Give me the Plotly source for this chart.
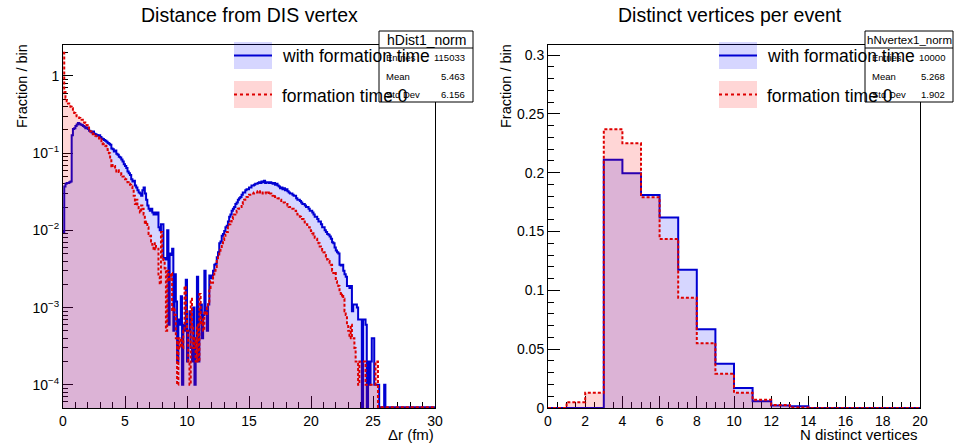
import plotly.graph_objects as go

W, H = 956, 443


def px(x):
    return x / W


def py(y):
    return 1 - y / H


# ---------------- data ----------------
dist_bin_width = 0.1  # fm
# "with formation time" (hDist1_norm), 300 bins 0..30 fm
dist_with_ft = [
    0.0095, 0.037, 0.040, 0.041, 0.041, 0.042, 0.043, 0.17, 0.205, 0.21,
    0.225, 0.235, 0.245, 0.24, 0.235, 0.232, 0.225, 0.22, 0.21, 0.215,
    0.205, 0.195, 0.19, 0.185, 0.19, 0.178, 0.175, 0.172, 0.168, 0.17,
    0.162, 0.155, 0.152, 0.148, 0.145, 0.140, 0.135, 0.132, 0.128, 0.115,
    0.112, 0.105, 0.108, 0.098, 0.095, 0.090, 0.088, 0.083, 0.078, 0.072,
    0.068, 0.064, 0.058, 0.055, 0.052, 0.046, 0.043, 0.044, 0.038, 0.036,
    0.033, 0.031, 0.030, 0.028, 0.033, 0.036, 0.030, 0.025, 0.021, 0.019,
    0.018, 0.019, 0.017, 0.016, 0.017, 0.016, 0.017, 0.011, 0.010, 0.012,
    0.012, 0.0043, 0.0044, 0.0042, 0.010, 0.0006, 0.005, 0.0048, 0.0058, 0.0005,
    0.0027, 0.0012, 0.0002, 0.0007, 0.0006, 0.0014, 0.0001, 0.0006, 0.0005, 0.0023,
    0.0002, 0.0005, 0.0009, 0.0003, 0.0002, 0.0010, 0.0001, 0.0004, 0.0025, 0.0002,
    0.0009, 0.0011, 0.0004, 0.0008, 0.0030, 0.0009, 0.0005, 0.0011, 0.0026, 0.0024,
    0.0026, 0.0030, 0.0036, 0.0037, 0.0045, 0.0052, 0.0068, 0.0072, 0.0085, 0.0090,
    0.0098, 0.011, 0.0115, 0.013, 0.015, 0.016, 0.018, 0.019, 0.020, 0.022,
    0.023, 0.025, 0.026, 0.027, 0.029, 0.031, 0.031, 0.033, 0.034, 0.034,
    0.036, 0.036, 0.038, 0.038, 0.039, 0.040, 0.040, 0.041, 0.042, 0.041,
    0.043, 0.042, 0.044, 0.041, 0.042, 0.042, 0.041, 0.042, 0.041, 0.040,
    0.041, 0.039, 0.040, 0.038, 0.037, 0.035, 0.036, 0.034, 0.035, 0.033,
    0.034, 0.032, 0.031, 0.030, 0.030, 0.029, 0.028, 0.028, 0.026, 0.025,
    0.025, 0.024, 0.023, 0.022, 0.022, 0.021, 0.020, 0.020, 0.019, 0.018,
    0.018, 0.017, 0.016, 0.015, 0.015, 0.014, 0.013, 0.013, 0.012, 0.011,
    0.011, 0.010, 0.0095, 0.0090, 0.0088, 0.0083, 0.0078, 0.0070, 0.0068, 0.0060,
    0.0055, 0.0052, 0.0050, 0.0036, 0.0035, 0.0036, 0.0030, 0.0027, 0.0025, 0.0019,
    0.0019, 0.0018, 0.0019, 0.0009, 0.0011, 0.0011, 0.0011, 0.0010, 0.0007, 0.0007,
    0.0007, 0.0, 0.0007, 0.0007, 0.0006, 0.0, 0.0002, 0.0001, 0.0002, 0.0004,
    0.0004, 0.0001, 0.0001, 0.0001, 0.0001, 0.0, 0.0, 0.0, 0.0, 0.0001,
    0.0, 0.0, 0.0, 0.0, 0.0, 0.0, 0.0, 0.0, 0.0, 0.0,
    0.0, 0.0, 0.0, 0.0, 0.0, 0.0, 0.0, 0.0, 0.0, 0.0,
    0.0, 0.0, 0.0, 0.0, 0.0, 0.0, 0.0, 0.0, 0.0, 0.0,
    0.0, 0.0, 0.0, 0.0, 0.0, 0.0, 0.0, 0.0, 0.0, 0.0,
]
# "formation time 0"
dist_ft0 = [
    2.0, 0.62, 0.52, 0.47, 0.44, 0.42, 0.40, 0.38, 0.35, 0.33,
    0.31, 0.30, 0.29, 0.285, 0.28, 0.27, 0.26, 0.25, 0.245, 0.23,
    0.215, 0.20, 0.19, 0.182, 0.175, 0.17, 0.168, 0.165, 0.16, 0.155,
    0.15, 0.135, 0.13, 0.128, 0.125, 0.118, 0.11, 0.10, 0.085, 0.065,
    0.07, 0.068, 0.062, 0.058, 0.06, 0.057, 0.055, 0.052, 0.05, 0.047,
    0.046, 0.044, 0.042, 0.040, 0.039, 0.037, 0.034, 0.028, 0.022, 0.025,
    0.020, 0.018, 0.017, 0.021, 0.019, 0.016, 0.012, 0.013, 0.011, 0.009,
    0.0085, 0.0072, 0.0065, 0.0055, 0.0068, 0.0060, 0.0058, 0.0025, 0.0020, 0.0095,
    0.0045, 0.0040, 0.0032, 0.0005, 0.0030, 0.0022, 0.0025, 0.0028, 0.0009, 0.0010,
    0.0008, 0.0004, 0.0001, 0.0004, 0.0003, 0.0004, 0.0003, 0.0005, 0.0019, 0.0009,
    0.0005, 0.0002, 0.0001, 0.0013, 0.0006, 0.0003, 0.0004, 0.0002, 0.0006, 0.0002,
    0.0015, 0.0006, 0.0007, 0.0005, 0.0009, 0.0008, 0.0010, 0.0012, 0.0018, 0.0022,
    0.0021, 0.0025, 0.0030, 0.0032, 0.0040, 0.0045, 0.0050, 0.0058, 0.0065, 0.0075,
    0.0080, 0.0088, 0.0095, 0.011, 0.012, 0.013, 0.014, 0.015, 0.016, 0.017,
    0.018, 0.019, 0.020, 0.020, 0.022, 0.024, 0.025, 0.026, 0.027, 0.028,
    0.029, 0.029, 0.030, 0.030, 0.031, 0.031, 0.031, 0.032, 0.031, 0.032,
    0.031, 0.030, 0.031, 0.031, 0.030, 0.031, 0.029, 0.030, 0.029, 0.028,
    0.029, 0.027, 0.027, 0.026, 0.025, 0.025, 0.024, 0.024, 0.023, 0.022,
    0.022, 0.021, 0.020, 0.020, 0.019, 0.019, 0.018, 0.018, 0.017, 0.016,
    0.016, 0.015, 0.014, 0.014, 0.013, 0.012, 0.012, 0.011, 0.011, 0.010,
    0.0098, 0.0092, 0.0088, 0.0080, 0.0078, 0.0072, 0.0068, 0.0062, 0.0060, 0.0055,
    0.0052, 0.0048, 0.0046, 0.0042, 0.0040, 0.0038, 0.0036, 0.0030, 0.0028, 0.0029,
    0.0022, 0.0020, 0.0019, 0.0016, 0.0014, 0.0015, 0.0013, 0.0009, 0.0008, 0.0006,
    0.0005, 0.0004, 0.0006, 0.0004, 0.0004, 0.0003, 0.0002, 0.0002, 0.0001, 0.0002,
    0.0002, 0.0002, 0.0002, 0.0002, 0.0001, 0.0001, 0.0001, 0.0001, 0.0001, 0.0001,
    0.0001, 0.0001, 0.0002, 0.0002, 0.0, 0.0, 0.0, 0.0, 0.0, 0.0,
    0.0, 0.0, 0.0, 0.0, 0.0, 0.0, 0.0, 0.0, 0.0, 0.0,
    0.0, 0.0, 0.0, 0.0, 0.0, 0.0, 0.0, 0.0, 0.0, 0.0,
    0.0, 0.0, 0.0, 0.0, 0.0, 0.0, 0.0, 0.0, 0.0, 0.0,
    0.0, 0.0, 0.0, 0.0, 0.0, 0.0, 0.0, 0.0, 0.0, 0.0,
]

nvtx_bin_width = 1
nvtx_with_ft = [0.0, 0.0, 0.0, 0.211, 0.1995, 0.181, 0.162, 0.1175, 0.067, 0.0377,
                0.0171, 0.0057, 0.0022, 0.0015, 0.0, 0.0, 0.0, 0.0, 0.0, 0.0]
nvtx_ft0 = [0.0, 0.0048, 0.0129, 0.2368, 0.2249, 0.1792, 0.1436, 0.0936, 0.0551, 0.0292,
            0.0129, 0.0071, 0.0025, 0.0005, 0.0, 0.0, 0.0, 0.0, 0.0, 0.0]

series_names = ["with formation time", "formation time 0"]
stats_dist = {"name": "hDist1_norm", "Entries": "115033", "Mean": "5.463", "Std Dev": "6.156"}
stats_nvtx = {"name": "hNvertex1_norm", "Entries": "10000", "Mean": "5.268", "Std Dev": "1.902"}

# ---------------- style ----------------
FONT = "Liberation Sans, Arial, Helvetica, sans-serif"
BLUE_LINE = "rgb(0,0,210)"
RED_LINE = "rgb(222,0,0)"
BLUE_FILL = "rgba(0,0,255,0.16)"
RED_FILL = "rgba(255,0,0,0.16)"
RED_DASH = "3px,2px"
LOG_RANGE = [-4.3, 0.4]


def step_xy(width, vals, floor=None):
    xs = [i * width for i in range(len(vals) + 1)]
    ys = list(vals) + [vals[-1]]
    if floor is not None:
        # empty bins are drawn on the lower frame edge, as ROOT does on a log scale
        ys = [v if v > 0 else floor for v in ys]
    return xs, ys


fig = go.Figure()

# left panel (log)
for vals, lc, fc, dash in [(dist_with_ft, BLUE_LINE, BLUE_FILL, "solid"),
                           (dist_ft0, RED_LINE, RED_FILL, RED_DASH)]:
    xs, ys = step_xy(dist_bin_width, vals, floor=10 ** (LOG_RANGE[0] + 0.01))
    fig.add_trace(go.Scatter(x=xs, y=ys, mode="lines", line=dict(shape="hv", color=lc, width=2, dash=dash),
                             fill="tozeroy", fillcolor=fc, xaxis="x", yaxis="y", showlegend=False,
                             hoverinfo="skip"))

# right panel (linear)
for vals, lc, fc, dash in [(nvtx_with_ft, BLUE_LINE, BLUE_FILL, "solid"),
                           (nvtx_ft0, RED_LINE, RED_FILL, RED_DASH)]:
    xs, ys = step_xy(nvtx_bin_width, vals)
    fig.add_trace(go.Scatter(x=xs, y=ys, mode="lines", line=dict(shape="hv", color=lc, width=2, dash=dash),
                             fill="tozeroy", fillcolor=fc, xaxis="x2", yaxis="y2", showlegend=False,
                             hoverinfo="skip"))

axis_common = dict(showline=True, mirror=True, linecolor="black", linewidth=1, ticks="inside",
                   tickcolor="black", showgrid=False, zeroline=False, layer="below traces",
                   automargin=False,
                   tickfont=dict(family=FONT, size=14, color="black"))

log_major = [1e-4, 1e-3, 1e-2, 1e-1, 1]
log_labels = ["10<sup>\u22124</sup>", "10<sup>\u22123</sup>", "10<sup>\u22122</sup>", "10<sup>\u22121</sup>", "1"]
log_minor = [m * 10.0 ** e for e in range(-5, 1) for m in range(2, 10)]

fig.update_layout(
    template="none",
    width=W, height=H, margin=dict(l=0, r=0, t=0, b=0, autoexpand=False),
    paper_bgcolor="white", plot_bgcolor="white",
    xaxis=dict(domain=[px(63), px(435)], range=[0, 30], anchor="y", tick0=0, dtick=5, ticklen=12,
               minor=dict(dtick=1, tick0=0, ticks="inside", ticklen=6, tickcolor="black", showgrid=False),
               **axis_common),
    yaxis=dict(domain=[py(408), py(45)], type="log", range=LOG_RANGE, anchor="x",
               tickmode="array", tickvals=log_major, ticktext=log_labels, ticklen=10,
               minor=dict(tickmode="array", tickvals=log_minor, ticks="inside", ticklen=5,
                          tickcolor="black", showgrid=False),
               **axis_common),
    xaxis2=dict(domain=[px(548), px(920)], range=[0, 20], anchor="y2", tick0=0, dtick=2, ticklen=12,
                minor=dict(dtick=0.5, tick0=0, ticks="inside", ticklen=6, tickcolor="black", showgrid=False),
                **axis_common),
    yaxis2=dict(domain=[py(408), py(45)], range=[0, 0.3085], anchor="x2", tick0=0, dtick=0.05, ticklen=12,
                minor=dict(dtick=0.01, tick0=0, ticks="inside", ticklen=6, tickcolor="black", showgrid=False),
                **axis_common),
)

shapes = []
annotations = []


def text(x, y, s, size, xanchor="center", yanchor="middle", angle=0):
    annotations.append(dict(x=px(x), y=py(y), xref="paper", yref="paper", text=s, showarrow=False,
                            xanchor=xanchor, yanchor=yanchor, textangle=angle,
                            font=dict(family=FONT, size=size, color="black")))


# titles
text(249.5, 15, "Distance from DIS vertex", 19.5)
text(730, 15, "Distinct vertices per event", 19.5)
# axis titles
text(436, 434, "\u0394r (fm)", 15, xanchor="right")
text(920, 434, "N distinct vertices", 15, xanchor="right")
text(22, 86, "Fraction / bin", 14.5, angle=-90)
text(506, 86, "Fraction / bin", 14.5, angle=-90)


def stats_box(x0, x1, y0, y1, st, title_size):
    shapes.append(dict(type="rect", xref="paper", yref="paper", x0=px(x0), x1=px(x1), y0=py(y1), y1=py(y0),
                       fillcolor="white", line=dict(color="black", width=1), layer="above"))
    shapes.append(dict(type="line", xref="paper", yref="paper", x0=px(x0), x1=px(x1), y0=py(48), y1=py(48),
                       line=dict(color="black", width=1), layer="above"))
    text((x0 + x1) / 2, 39.5, st["name"], title_size)
    for i, key in enumerate(["Entries", "Mean", "Std Dev"]):
        yy = 57.5 + i * 18.5
        text(x0 + 5, yy, key, 9.5, xanchor="left")
        text(x1 - 6, yy, st[key], 9.5, xanchor="right")


stats_box(379, 473, 31, 102, stats_dist, 14)
stats_box(865, 953, 31, 102, stats_nvtx, 11.5)


def legend(x0):
    entries = [(42, 69, BLUE_FILL, BLUE_LINE, "solid", series_names[0]),
               (81, 108, RED_FILL, RED_LINE, "dot", series_names[1])]
    for y0, y1, fc, lc, dash, name in entries:
        shapes.append(dict(type="rect", xref="paper", yref="paper", x0=px(x0), x1=px(x0 + 38),
                           y0=py(y1), y1=py(y0), fillcolor=fc, line=dict(width=0), layer="above"))
        shapes.append(dict(type="line", xref="paper", yref="paper", x0=px(x0), x1=px(x0 + 38),
                           y0=py((y0 + y1) / 2), y1=py((y0 + y1) / 2),
                           line=dict(color=lc, width=2, dash=dash), layer="above"))
        text(x0 + 46, (y0 + y1) / 2 + 1, name, 17.5, xanchor="left")


legend(234)
legend(719)

fig.update_layout(shapes=shapes, annotations=annotations)
fig.write_html("out.html")
